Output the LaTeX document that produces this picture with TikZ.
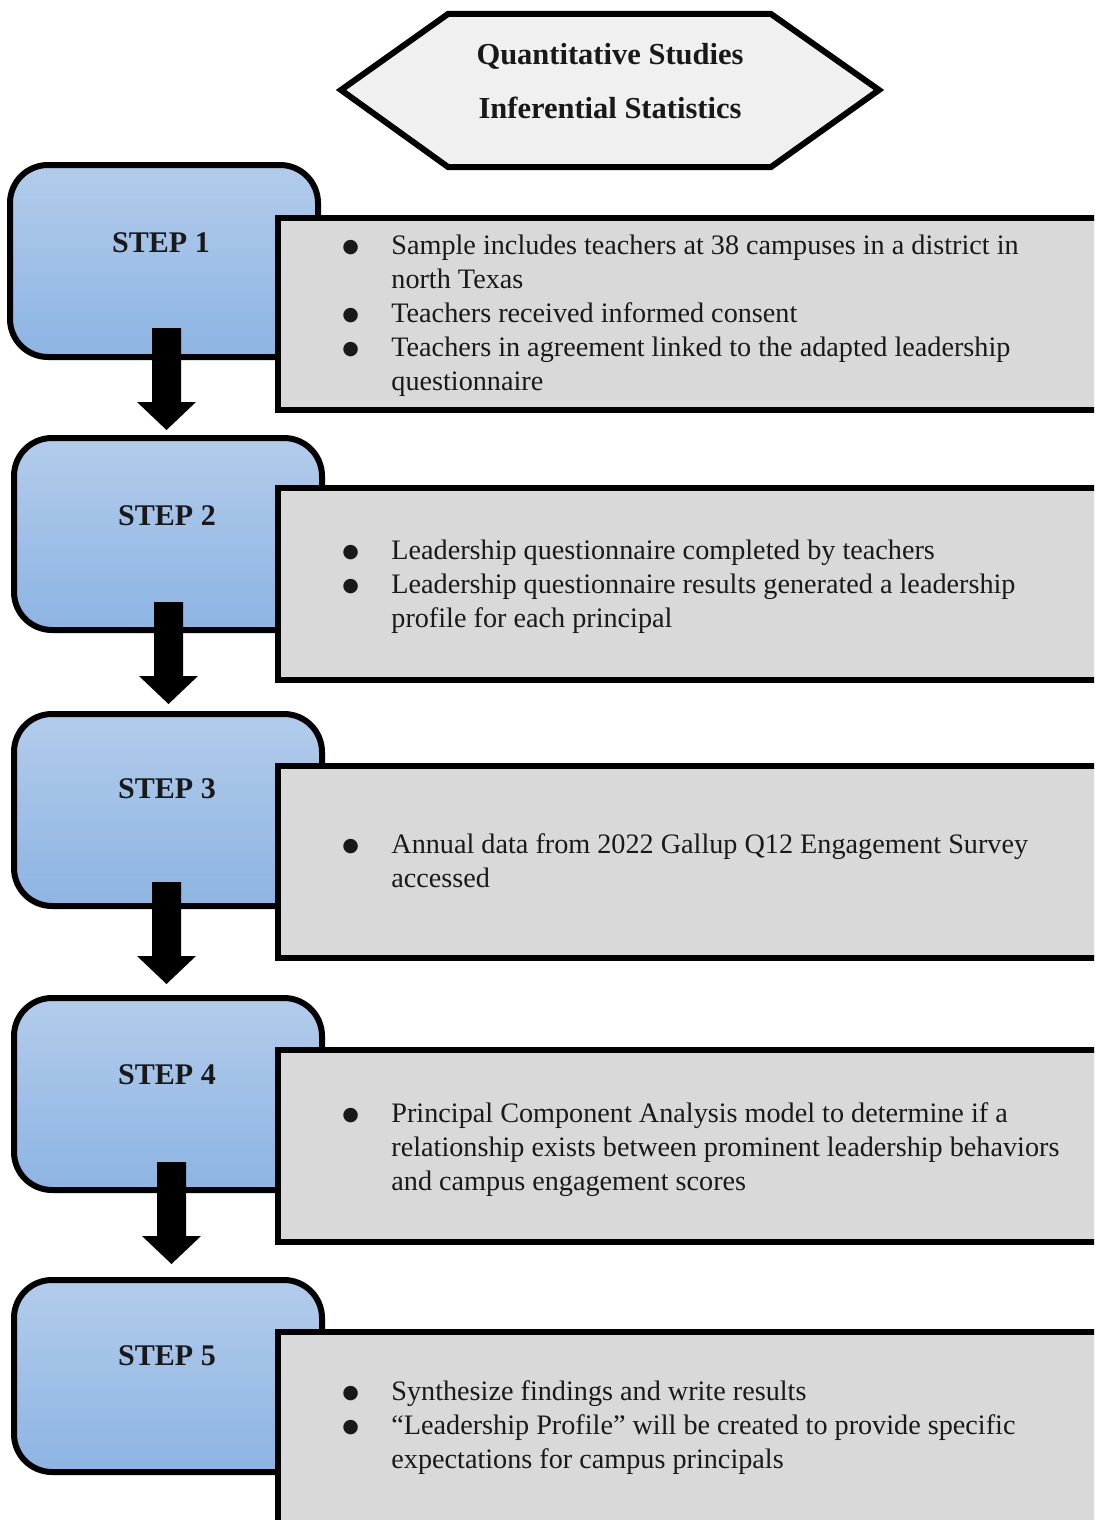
\documentclass[tikz,border=0pt]{standalone}
\usepackage{fontspec}
\setmainfont{Liberation Serif}
\newfontfamily\dejavu{DejaVu Sans}
\definecolor{stepTop}{RGB}{178,204,235}
\definecolor{stepBot}{RGB}{141,180,227}
\definecolor{grayfill}{RGB}{217,217,217}
\definecolor{hexfill}{RGB}{240,240,240}
\definecolor{txt}{RGB}{25,25,25}
\newcommand\bul{\makebox[23pt][l]{\hspace*{-1.5pt}\raisebox{1.3pt}{\dejavu\fontsize{9.5}{17}\selectfont ●}}}
\newcommand\ind{\hspace*{23pt}}
\tikzset{
  stepbox/.style={draw=black, line width=3pt, rounded corners=19pt, top color=stepTop, bottom color=stepBot, minimum width=154pt, minimum height=96pt, inner sep=0pt},
  steplabel/.style={font=\fontsize{15}{18}\selectfont\bfseries, text=txt, inner sep=0pt},
  graybox/.style={draw=black, line width=3pt, fill=grayfill, minimum width=421pt, minimum height=96pt, inner sep=0pt},
  itemtext/.style={anchor=west, inner sep=0pt, align=left, text=txt, font=\fontsize{14.1}{17}\selectfont},
  hexshape/.style={draw=black, line width=3pt, fill=hexfill, line join=miter},
  blockarrow/.pic={\fill[black] (-7.25pt,0) -- (7.25pt,0) -- (7.25pt,-37pt) -- (14.75pt,-37pt) -- (0,-51pt) -- (-14.75pt,-37pt) -- (-7.25pt,-37pt) -- cycle;}
}
\begin{document}
\begin{tikzpicture}[x=0.5pt, y=-0.5pt]
\useasboundingbox (0,0) rectangle (1094,1520);
\clip (0,0) rectangle (1094,1520);
% title hexagon
\draw[hexshape] (341,90) -- (448,14) -- (771,14) -- (879,90) -- (771,167) -- (448,167) -- cycle;
\node[align=center, inner sep=0pt, text=txt, font=\fontsize{15.25}{27}\selectfont\bfseries] (title) at (610,81) {Quantitative Studies\\Inferential Statistics};

% step boxes
\node[stepbox] (s1) at (164,261) {};
\node[steplabel] (l1) at (161,243) {STEP 1};
\node[graybox] (g1) at (699,314) {};
\node[itemtext] (t1) at (345,316) {\bul Sample includes teachers at 38 campuses in a district in\\
\ind north Texas\\
\bul Teachers received informed consent\\
\bul Teachers in agreement linked to the adapted leadership\\
\ind questionnaire};

\node[stepbox] (s2) at (168,534) {};
\node[steplabel] (l2) at (167,516) {STEP 2};
\node[graybox] (g2) at (699,584) {};
\node[itemtext] (t2) at (345,587) {\bul Leadership questionnaire completed by teachers\\
\bul Leadership questionnaire results generated a leadership\\
\ind profile for each principal};

\node[stepbox] (s3) at (168,810) {};
\node[steplabel] (l3) at (167,789) {STEP 3};
\node[graybox] (g3) at (699,861.5) {};
\node[itemtext] (t3) at (345,861) {\bul Annual data from 2022 Gallup Q12 Engagement Survey\\
\ind accessed};

\node[stepbox] (s4) at (168,1094) {};
\node[steplabel] (l4) at (167,1075) {STEP 4};
\node[graybox] (g4) at (699,1145.5) {};
\node[itemtext] (t4) at (345,1150) {\bul Principal Component Analysis model to determine if a\\
\ind relationship exists between prominent leadership behaviors\\
\ind and campus engagement scores};

\node[stepbox] (s5) at (168,1376) {};
\node[steplabel] (l5) at (167,1356) {STEP 5};
\node[graybox] (g5) at (699,1427.5) {};
\node[itemtext] (t5) at (345,1428) {\bul Synthesize findings and write results\\
\bul ``Leadership Profile'' will be created to provide specific\\
\ind expectations for campus principals};

% block arrows
\pic at (166.5,328) {blockarrow};
\pic at (168.5,602) {blockarrow};
\pic at (166.5,882) {blockarrow};
\pic at (171.5,1162) {blockarrow};
\end{tikzpicture}
\end{document}
